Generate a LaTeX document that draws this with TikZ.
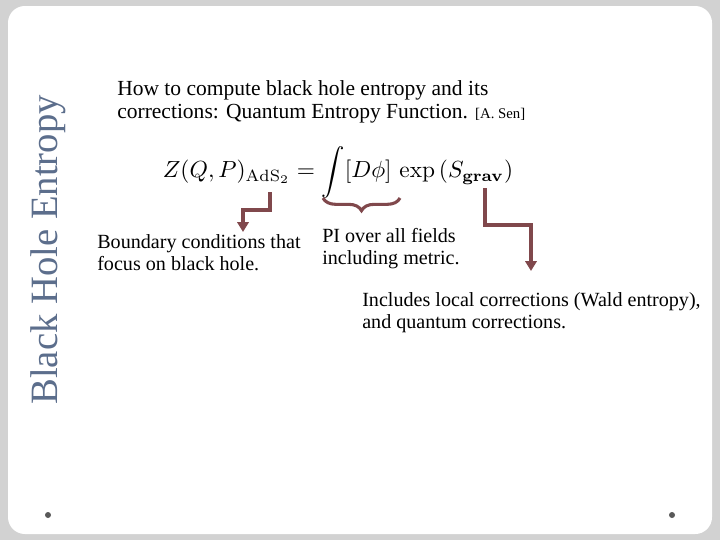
\documentclass[tikz,border=0pt]{standalone}
\usepackage[no-math]{fontspec}
\setmainfont{Liberation Serif}
\usetikzlibrary{decorations.pathreplacing}
\usetikzlibrary{arrows.meta}
\usepackage{xcolor}
\definecolor{smaroon}{RGB}{128,72,76}
\definecolor{stitle}{RGB}{92,110,140}

\begin{document}
\begin{tikzpicture}[x=0.025cm, y=-0.025cm,
	body/.style={anchor=north west, align=left, inner sep=0pt, font=\fontsize{14.3}{16}\selectfont},
	pointer/.style={draw=smaroon, line width=2.2pt, -{Triangle[length=7pt,width=8pt]}}]
	\fill[gray!35] (0,0) rectangle (720,540);
	\fill[white, rounded corners=12] (8,6) rectangle (712,534);
	\useasboundingbox (0,0) rectangle (720,540);
	
	\node[rotate=90, text=stitle, font=\fontsize{27.5}{27}\selectfont] (title) at (48,250) {Black Hole Entropy};
	\fill[gray!70!black] (48,515) circle (3);
	\fill[gray!70!black] (672,515) circle (3);
	
	\node[body, font=\fontsize{15.3}{16.5}\selectfont] (question) at (117,80) {How to compute black hole entropy and its\\corrections: Quantum Entropy Function. {\fontsize{10.5}{10}\selectfont [A. Sen]}};
	
	\node[inner sep=0pt, scale=1.66] (formula) at (338,172) {$Z(Q,P)_{\mathrm{AdS}_2} = \displaystyle\int [D\phi]\,\exp\left(S_{\mathbf{grav}}\right)$};
	
	\node[body] (boundary) at (97,234) {Boundary conditions that\\focus on black hole.};
	\node[body] (fields) at (322,228) {PI over all fields\\including metric.};
	\node[body] (wald) at (362,292) {Includes local corrections (Wald entropy),\\and quantum corrections.};
	
	\coordinate (ads) at (270,192);
	\coordinate (grav) at (485,188);
	\draw[pointer] (ads) |- (243,210) -- (243,232);
	\draw[pointer] (grav) |- (531,225) -- (531,271);
	\draw[draw=smaroon, line width=2.2pt, decorate, decoration={brace, mirror, amplitude=9}] (323,198) -- (400,198);
\end{tikzpicture}
\end{document}
